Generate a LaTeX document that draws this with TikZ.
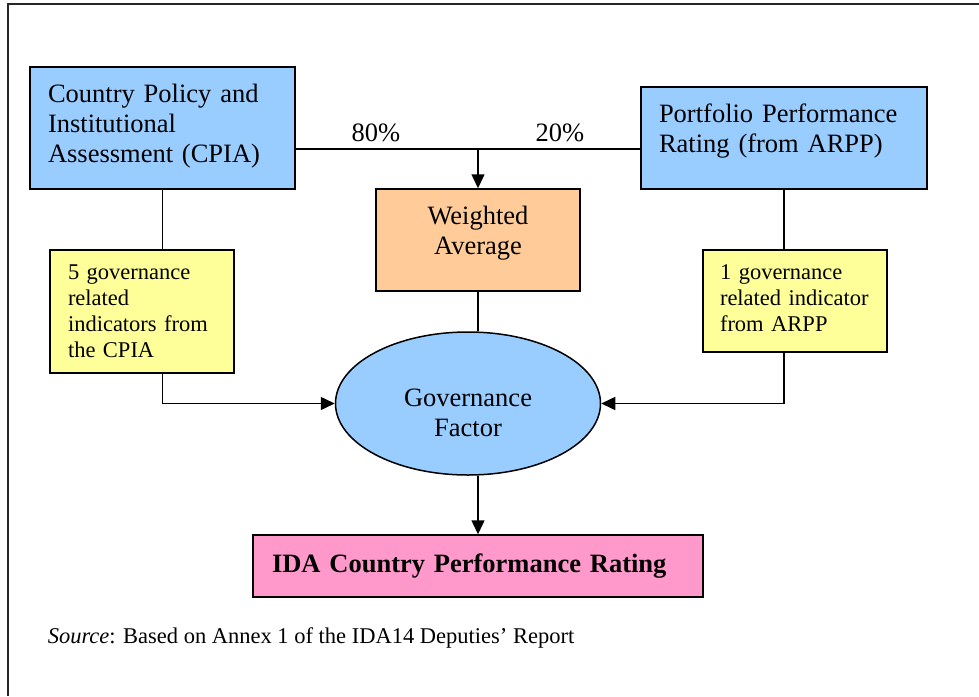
\documentclass[tikz,border=0pt]{standalone}
\usepackage{fontspec}
\setmainfont{Liberation Serif}
\usetikzlibrary{arrows.meta}
\usetikzlibrary{shapes.geometric}
\usetikzlibrary{math}

\definecolor{rateblue}{HTML}{99CCFF}
\definecolor{avgorange}{HTML}{FFCC99}
\definecolor{indyellow}{HTML}{FFFF99}
\definecolor{idapink}{HTML}{FF99CC}

\begin{document}
\begin{tikzpicture}[x=1pt,y=-1pt,line width=1.5pt,
  box/.style={draw,rectangle,inner ysep=0pt},
  bigfont/.style={font=\fontsize{26.5}{30}\selectfont},
  smallfont/.style={font=\fontsize{22.5}{26}\selectfont},
  link/.style={-{Triangle[length=14pt,width=13pt]}}]

  \tikzmath{
    \split = 149; % height of the weighting line
  }

  \useasboundingbox (0,0) rectangle (979,696);

  % frame
  \draw[black!85] (979,4) -- (8,4) -- (8,696);

  % ratings at the top
  \node[box,bigfont,fill=rateblue,text width=229pt,inner xsep=18pt,
    minimum height=122pt,align=left] (CPIA) at (162.5,128)
    {Country Policy and\\Institutional\\Assessment (CPIA)\rule[-10pt]{0pt}{1pt}};
  \node[box,bigfont,fill=rateblue,text width=250pt,inner xsep=18pt,
    minimum height=102pt,align=left] (PPR) at (784,138)
    {Portfolio Performance\\Rating (from ARPP)\rule[-19pt]{0pt}{1pt}};

  % weighted average
  \node[box,bigfont,fill=avgorange,text width=180pt,inner xsep=12pt,
    minimum height=102pt,align=center] (WA) at (478,240)
    {Weighted\\Average\rule[-19pt]{0pt}{1pt}};

  % governance indicators
  \node[box,smallfont,fill=indyellow,text width=148pt,inner xsep=18pt,
    minimum height=123pt,align=left] (IndCPIA) at (142,311.5)
    {5 governance\\related\\indicators from\\the CPIA};
  \node[box,smallfont,fill=indyellow,text width=150pt,inner xsep=17pt,
    minimum height=102pt,align=left] (IndARPP) at (795,301)
    {1 governance\\related indicator\\from ARPP\rule[-6pt]{0pt}{1pt}};

  % governance factor
  \node[draw,ellipse,bigfont,fill=rateblue,inner sep=0pt,align=center,
    minimum width=265pt,minimum height=143pt] (GF) at (468,403.5)
    {\rule{0pt}{36pt}Governance\\Factor};

  % final rating
  \node[box,bigfont,fill=idapink,text width=412pt,inner xsep=19pt,
    minimum height=62pt,align=left] (IDA) at (478,566)
    {\bfseries IDA Country Performance Rating};

  % weighting of the two ratings
  \coordinate (S) at (478,\split);
  \draw (CPIA.east |- S) -- (PPR.west |- S);
  \node[bigfont] (w80) at (376,133) {80\%};
  \node[bigfont] (w20) at (560,133) {20\%};
  \draw[link] (S) -- (WA.north);

  % links down to the governance factor
  \draw (CPIA.south) -- (CPIA.south |- IndCPIA.north);
  \draw (PPR.south) -- (PPR.south |- IndARPP.north);
  \draw (WA.south) -- (WA.south |- GF.north);
  \draw[link] (CPIA.south |- IndCPIA.south) |- (GF.west);
  \draw[link] (PPR.south |- IndARPP.south) |- (GF.east);
  \draw[link] (IDA.north |- GF.south) -- (IDA.north);

  % source
  \node[smallfont,anchor=west,inner sep=0pt] (src) at (47,638)
    {\textit{Source}: Based on Annex 1 of the IDA14 Deputies’ Report};

\end{tikzpicture}
\end{document}
